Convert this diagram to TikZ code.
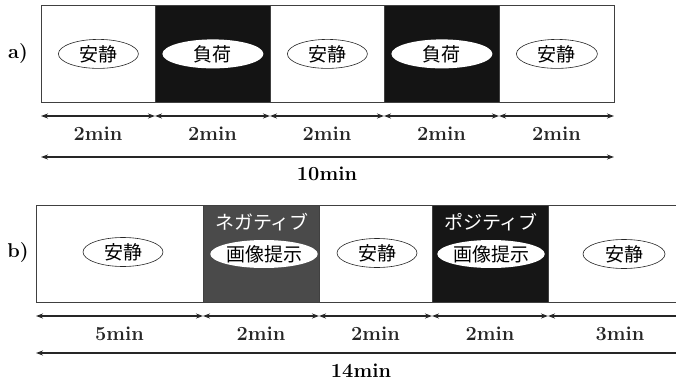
\documentclass[tikz,border=0pt]{standalone}
\usepackage{fontspec}
\newfontfamily\jp{Noto Sans CJK JP}
\usetikzlibrary{shapes.geometric,arrows.meta}
\definecolor{darka}{HTML}{141414}
\definecolor{negcol}{HTML}{4A4A4A}
\definecolor{poscol}{HTML}{161616}
\begin{document}
\begin{tikzpicture}[x=1pt,y=-1pt,
  seg/.style={draw=black!75, line width=0.8pt, inner sep=0pt, anchor=north west, minimum height=97pt},
  oval/.style={ellipse, draw=black!85, line width=0.6pt, fill=white, inner sep=0pt, minimum height=29pt, font=\fontsize{19}{19}\jp},
  ovalw/.style={oval, draw=none},
  captxt/.style={font=\fontsize{19}{19}\jp, text=white, inner sep=0pt},
  dimarr/.style={{Stealth[length=7pt,width=5pt]}-{Stealth[length=7pt,width=5pt]}, line width=1.2pt, black!85},
  lbl/.style={font=\fontsize{20}{24}\selectfont\bfseries, inner sep=0pt},
]
\useasboundingbox (0,0) rectangle (676,382);
\clip (0,0) rectangle (676,382);

% ---------- panel a ----------
\node[lbl] (la) at (18,54) {a)};
\node[seg, minimum width=114pt, fill=white] (a1) at (41,5) {};
\node[seg, minimum width=115pt, fill=darka] (a2) at (155,5) {};
\node[seg, minimum width=114pt, fill=white] (a3) at (270,5) {};
\node[seg, minimum width=115pt, fill=darka] (a4) at (384,5) {};
\node[seg, minimum width=115pt, fill=white] (a5) at (499,5) {};

\node[oval, minimum width=80pt] (ea1) at (a1.center) {安静};
\node[ovalw, minimum width=101pt] (ea2) at (a2.center) {負荷};
\node[oval, minimum width=80pt] (ea3) at (a3.center) {安静};
\node[ovalw, minimum width=101pt] (ea4) at (a4.center) {負荷};
\node[oval, minimum width=81pt] (ea5) at (a5.center) {安静};

\foreach \i/\x in {0/41,1/155,2/270,3/384,4/499,5/614}
  \coordinate (pa\i) at (\x,116);
\foreach \i/\j in {0/1,1/2,2/3,3/4,4/5}{
  \draw[dimarr] (pa\i) -- (pa\j) node[midway, below=10pt, lbl] {2min};
}
\coordinate (ta0) at (41,157);
\coordinate (ta1) at (614,157);
\draw[dimarr] (ta0) -- (ta1);
\node[lbl] (tla) at (327,174) {10min};

% ---------- panel b ----------
\node[lbl] (lb) at (18,253) {b)};
\node[seg, minimum width=167pt, fill=white] (b1) at (36,205) {};
\node[seg, minimum width=116pt, fill=negcol] (b2) at (203,205) {};
\node[seg, minimum width=113pt, fill=white] (b3) at (319,205) {};
\node[seg, minimum width=116pt, fill=poscol] (b4) at (432,205) {};
\node[seg, minimum width=142pt, fill=white] (b5) at (548,205) {};

\node[oval, minimum width=80pt] (eb1) at (123,252) {安静};
\node[captxt] (cb2) at (262,222) {ネガティブ};
\node[ovalw, minimum width=95pt, minimum height=28pt] (eb2) at (264,254) {画像提示};
\node[oval, minimum width=80pt] (eb3) at (377,253) {安静};
\node[captxt] (cb4) at (491,222) {ポジティブ};
\node[ovalw, minimum width=103pt, minimum height=28pt] (eb4) at (491,254) {画像提示};
\node[oval, minimum width=82pt] (eb5) at (624,254) {安静};

\foreach \i/\x in {0/36,1/203,2/319,3/432,4/548,5/692}
  \coordinate (pb\i) at (\x,316);
\foreach \i/\j/\t in {0/1/5min,1/2/2min,2/3/2min,3/4/2min,4/5/3min}{
  \draw[dimarr] (pb\i) -- (pb\j) node[pos=0.5, below=10pt, lbl] {\t};
}
\coordinate (tb0) at (36,353);
\coordinate (tb1) at (692,353);
\draw[dimarr] (tb0) -- (tb1);
\node[lbl] (tlb) at (361,371) {14min};
\end{tikzpicture}
\end{document}
